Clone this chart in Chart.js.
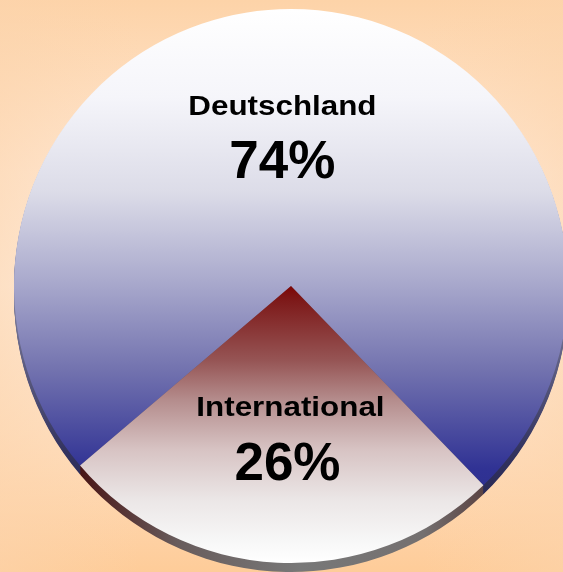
<!DOCTYPE html>
<html>
<head>
<meta charset="utf-8">
<script src="https://cdn.jsdelivr.net/npm/chart.js@4.4.1/dist/chart.umd.min.js"></script>
<style>
  html, body { margin: 0; padding: 0; }
  #wrap { width: 563px; height: 572px; position: relative; }
</style>
</head>
<body>
<div id="wrap"><canvas id="pie"></canvas></div>
<script>
/* ── DATA ───────────────────────────────────────────── */
const categories = ["Deutschland", "International"];
const shares     = [74, 26];
const shareText  = ["74%", "26%"];

/* ── STYLE ──────────────────────────────────────────── */
const RADIUS = 277;
const DEPTH  = 9;
const FONT   = "'Liberation Sans', Arial, sans-serif";

// label placement relative to pie centre, in radius units
const labelPos = [
  { dx: -0.031, name: -0.617, pct: -0.390 },
  { dx: -0.002, name:  0.470, pct:  0.700 }
];

function pieCentre(chart) {
  const a = chart.chartArea;
  return { x: (a.left + a.right) / 2, y: (a.top + a.bottom) / 2, r: RADIUS };
}

function faceGradient(ctx, p, i) {
  const { x, y, r } = p;
  if (i === 0) {
    const g = ctx.createLinearGradient(0, y - r, 0, y + r);
    g.addColorStop(0.00, "#ffffff");
    g.addColorStop(0.16, "#f5f5fa");
    g.addColorStop(0.33, "#dcdce8");
    g.addColorStop(0.49, "#aaaacd");
    g.addColorStop(0.65, "#7373af");
    g.addColorStop(0.83, "#303294");
    g.addColorStop(1.00, "#282a82");
    return g;
  }
  const g = ctx.createLinearGradient(0, y, 0, y + r);
  g.addColorStop(0.00, "#7d0505");
  g.addColorStop(0.05, "#7d1919");
  g.addColorStop(0.27, "#965555");
  g.addColorStop(0.41, "#b48c8c");
  g.addColorStop(0.59, "#d7c3c3");
  g.addColorStop(0.77, "#ebe6e6");
  g.addColorStop(0.92, "#f7f7f7");
  g.addColorStop(1.00, "#ffffff");
  return g;
}

function sideGradient(ctx, p, i) {
  const { x, y, r } = p;
  if (i === 0) {
    const g = ctx.createLinearGradient(0, y, 0, y + r);
    g.addColorStop(0.0, "#8484a0");
    g.addColorStop(0.6, "#33335f");
    g.addColorStop(1.0, "#1a1a48");
    return g;
  }
  const g = ctx.createLinearGradient(x - r * 0.78, 0, x + r * 0.7, 0);
  g.addColorStop(0.00, "#481212");
  g.addColorStop(0.25, "#685c5c");
  g.addColorStop(0.55, "#787878");
  g.addColorStop(0.85, "#747070");
  g.addColorStop(1.00, "#5a4242");
  return g;
}

/* ── BACKGROUND ─────────────────────────────────────── */
const bgPlugin = {
  id: "bg",
  beforeDraw(chart) {
    const { ctx, width: w, height: h } = chart;
    ctx.save();
    const v = ctx.createLinearGradient(0, 0, 0, h);
    v.addColorStop(0.00, "#fdd3a8");
    v.addColorStop(0.30, "#ffe8d4");
    v.addColorStop(0.50, "#ffefe2");
    v.addColorStop(0.75, "#ffe0c2");
    v.addColorStop(1.00, "#fecc99");
    ctx.fillStyle = v;
    ctx.fillRect(0, 0, w, h);
    const hz = ctx.createLinearGradient(0, 0, w, 0);
    hz.addColorStop(0.00, "rgba(252,212,172,0.55)");
    hz.addColorStop(0.25, "rgba(252,212,172,0)");
    hz.addColorStop(0.75, "rgba(252,212,172,0)");
    hz.addColorStop(1.00, "rgba(252,212,172,0.55)");
    ctx.fillStyle = hz;
    ctx.fillRect(0, 0, w, h);
    ctx.restore();
  }
};

/* ── 3D SIDE ────────────────────────────────────────── */
const depthPlugin = {
  id: "depth",
  beforeDatasetsDraw(chart) {
    const { ctx } = chart;
    const arcs = chart.getDatasetMeta(0).data;
    ctx.save();
    arcs.forEach((arc, i) => {
      const { x, y, startAngle, endAngle, outerRadius: r } = arc;
      ctx.fillStyle = sideGradient(ctx, { x, y, r }, i);
      for (let k = 1; k <= DEPTH; k++) {
        ctx.beginPath();
        ctx.moveTo(x, y + k);
        ctx.arc(x, y + k, r, startAngle, endAngle);
        ctx.closePath();
        ctx.fill();
      }
    });
    ctx.restore();
  }
};

/* ── LABELS ─────────────────────────────────────────── */
const labelPlugin = {
  id: "sliceLabels",
  afterDatasetsDraw(chart) {
    const { ctx } = chart;
    const arcs = chart.getDatasetMeta(0).data;
    ctx.save();
    ctx.fillStyle = "#000";
    ctx.textAlign = "center";
    ctx.textBaseline = "alphabetic";
    arcs.forEach((arc, i) => {
      const p = labelPos[i];
      const r = arc.outerRadius;
      const lx = arc.x + p.dx * r;

      ctx.save();
      ctx.translate(lx, arc.y + p.name * r);
      ctx.scale(1.12, 1);
      ctx.font = `bold 28px ${FONT}`;
      ctx.fillText(categories[i], 0, 0);
      ctx.restore();

      ctx.font = `bold 53px ${FONT}`;
      ctx.fillText(shareText[i], lx - (i === 1 ? 3 : 0), arc.y + p.pct * r);
    });
    ctx.restore();
  }
};

/* ── CHART ──────────────────────────────────────────── */
new Chart(document.getElementById("pie").getContext("2d"), {
  type: "pie",
  data: {
    labels: categories,
    datasets: [{
      data: shares,
      backgroundColor: c => {
        if (!c.chart.chartArea) return "#aaaacd";
        return faceGradient(c.chart.ctx, pieCentre(c.chart), c.dataIndex);
      },
      borderWidth: 0
    }]
  },
  options: {
    responsive: true,
    maintainAspectRatio: false,
    animation: false,
    rotation: 229.6,
    radius: RADIUS,
    layout: { padding: { left: 19, right: 0, top: 0, bottom: 0 } },
    plugins: {
      legend: { display: false },
      tooltip: { enabled: false }
    }
  },
  plugins: [bgPlugin, depthPlugin, labelPlugin]
});
</script>
</body>
</html>
